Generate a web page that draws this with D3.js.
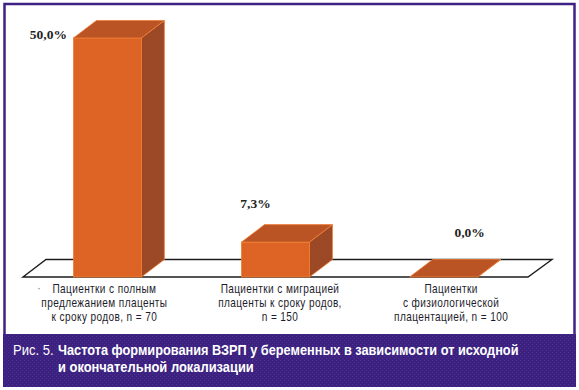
<!DOCTYPE html>
<html>

<head>
    <meta charset="utf-8">
    <script src="https://d3js.org/d3.v7.min.js"></script>
    <style type="text/css">
        html, body {
            margin: 0;
            padding: 0;
            background: #fff;
        }

        svg {
            display: block;
        }

        .cat {
            font-family: "Liberation Sans", sans-serif;
            font-size: 12.4px;
            letter-spacing: 0.5px;
            fill: #1d1d2b;
            text-anchor: middle;
        }

        .val {
            font-family: "Liberation Serif", serif;
            font-size: 13.5px;
            font-weight: bold;
            fill: #222;
            text-anchor: middle;
        }

        .cap {
            font-family: "Liberation Sans", sans-serif;
            font-size: 14.5px;
            fill: #fff;
        }
    </style>
</head>

<body>
    <div id="chart"></div>

    <script>
        const categories = ["full", "migration", "physiological"];
        const values = [50.0, 7.3, 0.0];
        const categoryLines = [
            ["Пациентки с полным", "предлежанием плаценты", "к сроку родов, n = 70"],
            ["Пациентки с миграцией", "плаценты к сроку родов,", "n = 150"],
            ["Пациентки", "с физиологической", "плацентацией, n = 100"]
        ];
        const captionPrefix = "Рис. 5.";
        const captionLines = [
            "Частота формирования ВЗРП у беременных в зависимости от исходной",
            "и окончательной локализации"
        ];

        const width = 579, height = 390;
        const floorLeft = 23, floorRight = 528, baseY = 277, topY = 38;
        // 3d offset of the box depth
        const dx = 23, dy = -17.5;

        // label offsets from the top of each bar
        const valueDx = [-59, -20, 26];
        const valueDy = [1, -34, -40];
        const catDx = [-3, 4.5, 7.5];
        // no narrow font here, so squeeze the labels and the caption
        const catSqueeze = 0.81;
        const captionWidths = [461, 196];

        const x = d3.scaleBand()
            .domain(categories)
            .range([floorLeft, floorRight])
            .paddingInner(0.596)
            .paddingOuter(0.3);

        const y = d3.scaleLinear()
            .domain([0, 50])
            .range([baseY, topY]);

        const svg = d3.select("#chart")
            .append("svg")
            .attr("width", width)
            .attr("height", height);

        const defs = svg.append("defs");
        function dots(id, bg, dot) {
            const p = defs.append("pattern")
                .attr("id", id)
                .attr("width", 4)
                .attr("height", 4)
                .attr("patternUnits", "userSpaceOnUse");
            p.append("rect").attr("width", 4).attr("height", 4).attr("fill", bg);
            p.append("rect").attr("x", 0).attr("y", 0).attr("width", 1).attr("height", 1).attr("fill", dot);
            p.append("rect").attr("x", 2).attr("y", 2).attr("width", 1).attr("height", 1).attr("fill", dot);
        }
        dots("panelDots", "#3c2180", "#4a3390");
        dots("frontDots", "#dd6424", "#d95f20");
        dots("sideDots", "#9a4826", "#a04a22");

        // frame and caption panel
        svg.append("rect")
            .attr("x", 4.5)
            .attr("y", 4)
            .attr("width", 570)
            .attr("height", 332)
            .attr("fill", "#fff")
            .attr("stroke", "#3f2085")
            .attr("stroke-width", 2.5);

        svg.append("rect")
            .attr("x", 3)
            .attr("y", 334)
            .attr("width", 573)
            .attr("height", 53)
            .attr("fill", "url(#panelDots)");

        // floor
        const floor = [
            [floorLeft, baseY],
            [floorRight, baseY],
            [floorRight + dx + 1, baseY + dy],
            [floorLeft + dx, baseY + dy]
        ];
        svg.append("path")
            .attr("d", d3.line()(floor) + "Z")
            .attr("fill", "#fff")
            .attr("stroke", "#1c1c1c")
            .attr("stroke-width", 1.4);

        // boxes
        const box = svg.selectAll(".box")
            .data(categories)
            .enter()
            .append("g")
            .attr("class", "box");

        const edge = "#ef7d33";

        box.append("path")
            .attr("d", (d, i) => {
                const x0 = x(d) + x.bandwidth();
                return d3.line()([
                    [x0, y(values[i])],
                    [x0 + dx, y(values[i]) + dy],
                    [x0 + dx, y(0) + dy],
                    [x0, y(0)]
                ]) + "Z";
            })
            .attr("fill", "url(#sideDots)")
            .attr("stroke", edge)
            .attr("stroke-width", 0.8);

        box.append("rect")
            .attr("x", d => x(d))
            .attr("y", (d, i) => y(values[i]))
            .attr("width", x.bandwidth())
            .attr("height", (d, i) => y(0) - y(values[i]))
            .attr("fill", "url(#frontDots)")
            .attr("stroke", edge)
            .attr("stroke-width", 0.8);

        box.append("path")
            .attr("d", (d, i) => {
                const x0 = x(d), x1 = x0 + x.bandwidth(), yv = y(values[i]);
                return d3.line()([
                    [x0, yv],
                    [x1, yv],
                    [x1 + dx, yv + dy],
                    [x0 + dx, yv + dy]
                ]) + "Z";
            })
            .attr("fill", "#bb5425")
            .attr("stroke", edge)
            .attr("stroke-width", 0.8);

        // value labels
        svg.selectAll(".val")
            .data(values)
            .enter()
            .append("text")
            .attr("class", "val")
            .attr("x", (d, i) => x(categories[i]) + x.bandwidth() / 2 + valueDx[i])
            .attr("y", (d, i) => y(d) + valueDy[i])
            .text(d => d3.format(".1f")(d).replace(".", ",") + "%");

        // category labels
        const cat = svg.selectAll(".cat")
            .data(categoryLines)
            .enter()
            .append("text")
            .attr("class", "cat")
            .attr("transform", (d, i) => `translate(${x(categories[i]) + x.bandwidth() / 2 + catDx[i]},0) scale(${catSqueeze},1)`);

        cat.selectAll("tspan")
            .data(d => d)
            .enter()
            .append("tspan")
            .attr("x", 0)
            .attr("y", (d, j) => 293 + j * 14.2)
            .text(d => d);

        svg.append("text")
            .attr("x", 39)
            .attr("y", 292)
            .attr("text-anchor", "middle")
            .attr("font-family", "Liberation Sans")
            .attr("font-size", 12)
            .attr("fill", "#888")
            .text("·");

        // caption
        svg.append("text")
            .attr("class", "cap")
            .attr("transform", "translate(13,355) scale(0.9,1)")
            .text(captionPrefix);

        svg.selectAll(".capLine")
            .data(captionLines)
            .enter()
            .append("text")
            .attr("class", "cap capLine")
            .attr("font-weight", "bold")
            .text(d => d)
            .attr("transform", function (d, i) {
                const sx = captionWidths[i] / this.getComputedTextLength();
                return `translate(58,${355 + i * 17}) scale(${sx},1)`;
            });
    </script>
</body>

</html>
